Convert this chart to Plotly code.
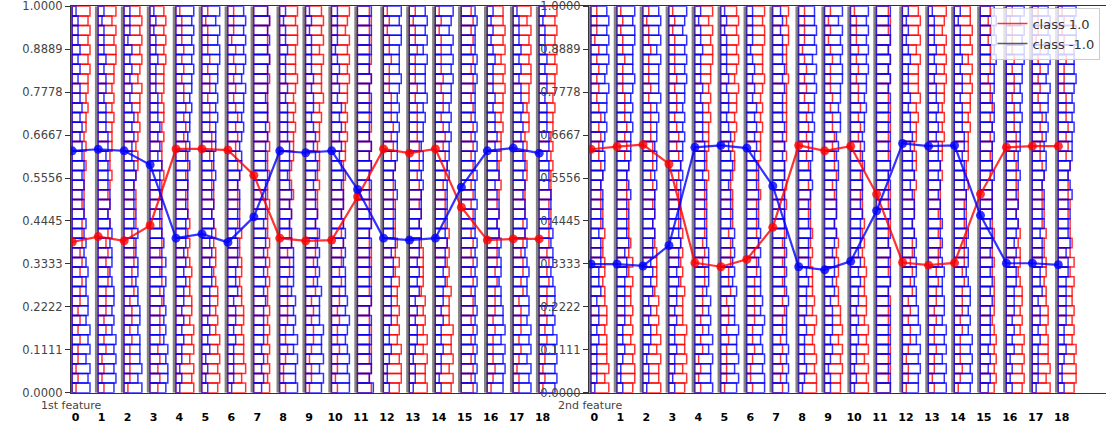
import plotly.graph_objects as go

# ---------------- data ----------------
N_BINS = 40
features = list(range(19))
feature_labels = [str(i) for i in features]
ytick_vals = [0, 1/9, 2/9, 3/9, 4/9, 5/9, 6/9, 7/9, 8/9, 1]
ytick_text = ["0.0000", "0.1111", "0.2222", "0.3333", "0.4445",
              "0.5556", "0.6667", "0.7778", "0.8889", "1.0000"]

# class markers
mean_red_1 = [0.390, 0.404, 0.393, 0.433, 0.631, 0.631, 0.628, 0.563, 0.400, 0.393,
              0.395, 0.507, 0.631, 0.620, 0.631, 0.480, 0.395, 0.398, 0.398]
mean_blue_1 = [0.626, 0.630, 0.626, 0.590, 0.400, 0.411, 0.389, 0.455, 0.626, 0.621,
               0.626, 0.526, 0.400, 0.395, 0.400, 0.532, 0.626, 0.633, 0.620]
mean_red_2 = [0.630, 0.637, 0.642, 0.592, 0.336, 0.326, 0.345, 0.428, 0.640, 0.626,
              0.638, 0.514, 0.337, 0.330, 0.336, 0.514, 0.635, 0.638, 0.638]
mean_blue_2 = [0.333, 0.333, 0.328, 0.381, 0.635, 0.640, 0.633, 0.535, 0.326, 0.318,
               0.340, 0.471, 0.645, 0.638, 0.640, 0.459, 0.335, 0.335, 0.331]

# histogram bin counts (bottom -> top, 40 bins)
B1 = "9897989788" "7787676766" "5656554545" "4434343332"
B2 = "8989897878" "8767767656" "6555455444" "3443433323"
B3 = "9798887887" "7677667565" "5565445454" "3434342333"
B4 = "8998978787" "7868676656" "5556454544" "4333433232"
B5 = "9889797878" "6777766565" "6545554444" "3433343323"
B6 = "8979889777" "8676767565" "5456545434" "4343333232"
B7 = "9989878978" "7776767656" "6565454545" "3434323333"
B8 = "8898979887" "7677676566" "5465545443" "4333432323"
T1 = "2323343434" "4545455565" "6667676778" "7889898989"
T2 = "3232434344" "4554545656" "5676677787" "8788998979"
T3 = "2333343443" "5445554656" "6567767878" "8978989898"
T4 = "3223433444" "4455465565" "7656777878" "7898889989"
T5 = "2332344343" "5454556566" "6767767787" "9888979898"
T6 = "3233433434" "4545565656" "6676778787" "8898989789"
T7 = "2343334344" "4545556565" "6766777878" "8989798988"
T8 = "3323434443" "5455456566" "6677676887" "8899898979"
MB1 = "8787877778" "7676767666" "6566565655" "5656555454"
MB2 = "7878787677" "7767667666" "6656565656" "5545554545"
MT1 = "4545455556" "5656566566" "6676667677" "6777878787"
MT2 = "5454545565" "6565656667" "6766767777" "7787778878"
U1 = "7676767667" "6767766776" "7667676767" "6676767676"
U2 = "8677676767" "7676676767" "6767676676" "7676676767"
U4 = "7767676776" "6776767677" "6767767676" "7676767767"
U5 = "8787878787" "7878787778" "7787787877" "7787877787"
U6 = "6565656566" "5656565665" "6566565656" "5665656565"

hist_red_1 = [T1, T2, T3, MT1, B1, B2, B3, U5, T4, T5, T6, U1, B4, B5, B6, U6, T7, T8, T1]
hist_blue_1 = [B1, B2, B3, B4, T1, T2, T3, MT1, B5, B6, B7, U2, T4, T5, T6, U5, B8, B1, B2]
hist_red_2 = [B3, B4, B5, B6, T2, T3, T4, MT2, B7, B8, B1, U1, T5, T6, T7, MB2, B2, B3, B4]
hist_blue_2 = [T3, T4, T5, T6, B5, B6, B7, MB1, T7, T8, T1, U4, B8, B1, B2, MT1, T2, T3, T4]

# ---------------- style ----------------
W_PER_COUNT = 0.077
RED = "rgba(255,0,0,0.8)"
BLUE = "rgba(0,0,255,0.8)"
GRAY = "rgba(90,90,90,0.75)"
FONT = "DejaVu Sans"
bin_centers = [(i + 0.5) / N_BINS for i in range(N_BINS)]

fig = go.Figure()


def add_panel(xa, ya, h_red, h_blue, m_red, m_blue):
    gx, gy = [], []
    for k in features:
        gx += [k - 0.03, k - 0.03, None]
        gy += [0, 1, None]
    fig.add_trace(go.Scatter(x=gx, y=gy, mode="lines", line=dict(color=GRAY, width=3),
                             xaxis=xa, yaxis=ya, showlegend=False, hoverinfo="skip"))
    for strings, color in ((h_red, RED), (h_blue, BLUE)):
        for k, s in zip(features, strings):
            counts = [int(c) for c in s]
            fig.add_trace(go.Bar(
                orientation="h", y=bin_centers, x=[c * W_PER_COUNT for c in counts],
                base=k + 0.03, width=1 / N_BINS,
                marker=dict(color="rgba(0,0,0,0)", line=dict(color=color, width=1.5)),
                xaxis=xa, yaxis=ya, showlegend=False, hoverinfo="skip"))
    for m, color in ((m_red, RED), (m_blue, BLUE)):
        fig.add_trace(go.Scatter(
            x=[k + 0.04 for k in features], y=m, mode="lines+markers",
            line=dict(color=color, width=2.2), marker=dict(size=9, color=color),
            xaxis=xa, yaxis=ya, showlegend=False, hoverinfo="skip"))


add_panel("x", "y", hist_red_1, hist_blue_1, mean_red_1, mean_blue_1)
add_panel("x2", "y2", hist_red_2, hist_blue_2, mean_red_2, mean_blue_2)

# legend entries
fig.add_trace(go.Scatter(x=[None], y=[None], mode="lines", name="class 1.0",
                         line=dict(color="rgba(255,0,0,0.8)", width=1.5), xaxis="x2", yaxis="y2"))
fig.add_trace(go.Scatter(x=[None], y=[None], mode="lines", name="class -1.0",
                         line=dict(color="rgba(50,50,50,0.8)", width=1.5), xaxis="x2", yaxis="y2"))

ydom = [(425 - 392.7) / 425, (425 - 6.3) / 425]
xcommon = dict(showgrid=False, zeroline=False, showline=True, mirror=True,
               linecolor="#333", linewidth=1.2, ticks="", automargin=False,
               tickvals=[k + 0.17 for k in features], ticktext=feature_labels,
               tickfont=dict(family=FONT, size=11, color="black", weight="bold"),
               ticklabelstandoff=14, ticklabeloverflow="allow")
ycommon = dict(showgrid=False, zeroline=False, showline=True, linecolor="#333", linewidth=1.2,
               ticks="outside", ticklen=5, tickcolor="#333", range=[0, 1], domain=ydom,
               tickvals=ytick_vals, ticktext=ytick_text, ticklabeloverflow="allow",
               automargin=False, tickfont=dict(family=FONT, size=11.5, color="#444"))

fig.update_layout(
    width=1106, height=425, margin=dict(l=0, r=0, t=0, b=0, pad=0), autosize=False,
    plot_bgcolor="white", paper_bgcolor="white", barmode="overlay",
    font=dict(family=FONT, size=12, color="#333"),
    xaxis=dict(domain=[71 / 1106, 589 / 1106], range=[-0.01, 19.96], anchor="y", **xcommon),
    yaxis=dict(anchor="x", **ycommon),
    xaxis2=dict(domain=[589 / 1106, 1.0], range=[-0.04, 19.875], anchor="y2", **xcommon),
    yaxis2=dict(anchor="x2", **ycommon),
    legend=dict(x=0.995, y=0.982, xanchor="right", yanchor="top",
                bgcolor="rgba(255,255,255,0.8)", bordercolor="#ccc", borderwidth=1,
                font=dict(family=FONT, size=13, color="#333"), itemwidth=30, tracegroupgap=0),
    annotations=[
        dict(text="1st feature", x=71 / 1106, y=(425 - 405.5) / 425, xref="paper", yref="paper",
             showarrow=False, xanchor="center", yanchor="middle",
             font=dict(family=FONT, size=11, color="#444")),
        dict(text="2nd feature", x=590 / 1106, y=(425 - 405.5) / 425, xref="paper", yref="paper",
             showarrow=False, xanchor="center", yanchor="middle",
             font=dict(family=FONT, size=11, color="#444")),
    ],
)

fig.write_html("out.html")
